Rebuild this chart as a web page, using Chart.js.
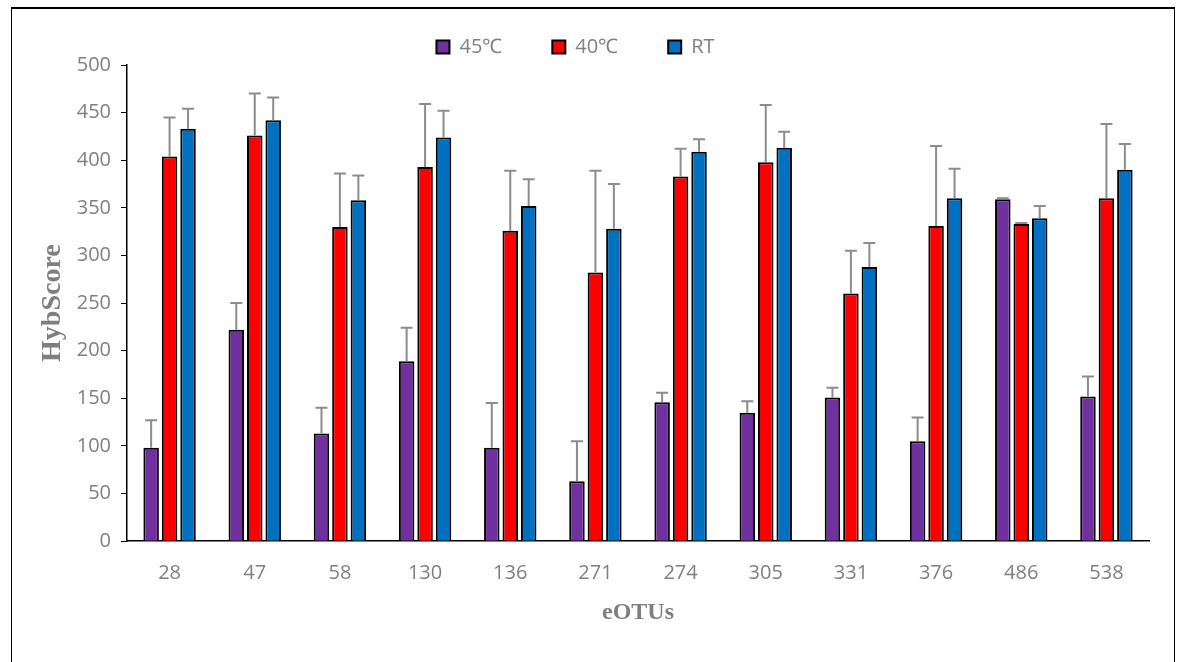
<!DOCTYPE html>
<html>
<head>
<meta charset="utf-8">
<script src="https://cdn.jsdelivr.net/npm/chart.js@4.4.1/dist/chart.umd.min.js"></script>
<style>
  html, body { margin: 0; padding: 0; background: #fff; }
  #wrap { position: relative; width: 1181px; height: 662px; overflow: hidden; }
  #frame { position: absolute; left: 11px; top: 7px; width: 1162px; height: 700px;
           border: 1px solid #000; border-top-width: 2px; pointer-events: none; }
</style>
</head>
<body>
<div id="wrap">
  <canvas id="chart" width="1181" height="662"></canvas>
  <div id="frame"></div>
</div>
<script>
// eOTU categories
const eOTUs = ['28', '47', '58', '130', '136', '271', '274', '305', '331', '376', '486', '538'];

// mean HybScore per treatment
const t45 = [98, 222, 113, 189, 98, 63, 146, 135, 151, 105, 359, 152];
const t40 = [404, 426, 330, 393, 326, 282, 383, 398, 260, 331, 333, 360];
const tRT = [433, 442, 358, 424, 352, 328, 409, 413, 288, 360, 339, 390];

// upper error bar lengths
const err45 = [29, 28, 27, 35, 47, 42, 10, 12, 10, 25, 1, 21];
const err40 = [41, 44, 56, 66, 63, 107, 29, 60, 45, 84, 1, 78];
const errRT = [21, 24, 26, 28, 28, 47, 13, 17, 25, 31, 13, 27];

const yTicks = [0, 50, 100, 150, 200, 250, 300, 350, 400, 450, 500];

const grey = '#7f7f7f';
const tickFont = { family: "'Open Sans', sans-serif", size: 20 };

// draws the upward error whiskers on top of each bar
const errorBars = {
  id: 'errorBars',
  afterDatasetsDraw(chart) {
    const { ctx, scales: { y } } = chart;
    ctx.save();
    ctx.strokeStyle = '#8c8c8c';
    ctx.lineWidth = 2;
    chart.data.datasets.forEach((ds, i) => {
      const meta = chart.getDatasetMeta(i);
      meta.data.forEach((bar, j) => {
        const top = y.getPixelForValue(ds.data[j] + ds.errors[j]);
        ctx.beginPath();
        ctx.moveTo(bar.x, bar.y);
        ctx.lineTo(bar.x, top);
        ctx.moveTo(bar.x - 6, top);
        ctx.lineTo(bar.x + 6, top);
        ctx.stroke();
      });
    });
    ctx.restore();
  }
};

// wide gaps between legend items, but without the tall box that padding gives
const legendFix = {
  id: 'legendFix',
  afterInit(chart) {
    const lg = chart.legend;
    const fit = lg.fit.bind(lg);
    lg.fit = function () { fit(); this.height = 65; };
  },
  afterLayout(chart) {
    const lg = chart.legend;
    lg.top -= 13;
    lg.bottom = lg.top + 120;
    lg.left -= 15;
    lg.right -= 15;
  }
};

const ctx = document.getElementById('chart');
new Chart(ctx, {
  type: 'bar',
  data: {
    labels: eOTUs,
    datasets: [
      { label: '45℃', data: t45, errors: err45, backgroundColor: '#7030A0' },
      { label: '40℃', data: t40, errors: err40, backgroundColor: '#FF0000' },
      { label: 'RT', data: tRT, errors: errRT, backgroundColor: '#0070C0' }
    ].map(d => Object.assign(d, {
      borderColor: '#000',
      borderWidth: 2,
      categoryPercentage: 0.65,
      barPercentage: 0.84
    }))
  },
  options: {
    responsive: false,
    animation: false,
    layout: { padding: { left: 32, right: 32, top: 0, bottom: 31 } },
    plugins: {
      legend: {
        position: 'top',
        labels: {
          boxWidth: 13,
          boxHeight: 13,
          padding: 50,
          color: grey,
          font: tickFont
        }
      },
      tooltip: { enabled: false }
    },
    scales: {
      x: {
        grid: { display: false, drawTicks: false },
        border: { color: '#000', width: 1.5 },
        ticks: { color: grey, font: tickFont, padding: 20 },
        title: {
          display: true, text: 'eOTUs', color: grey,
          font: { family: "'Liberation Serif', serif", size: 24, weight: 'bold' },
          padding: { top: -7, bottom: 4 }
        }
      },
      y: {
        min: 0,
        max: 500,
        afterBuildTicks(axis) { axis.ticks = yTicks.map(v => ({ value: v })); },
        afterFit(axis) { axis.width = 95; },
        grid: { drawOnChartArea: false, color: '#000', tickLength: 6 },
        border: { color: '#000', width: 1.5 },
        ticks: { color: grey, font: tickFont, padding: 10 },
        title: {
          display: true, text: 'HybScore', color: grey,
          font: { family: "'Liberation Serif', serif", size: 28, weight: 'bold' },
          padding: { top: 4, bottom: 8 }
        }
      }
    }
  },
  plugins: [errorBars, legendFix]
});
</script>
</body>
</html>
